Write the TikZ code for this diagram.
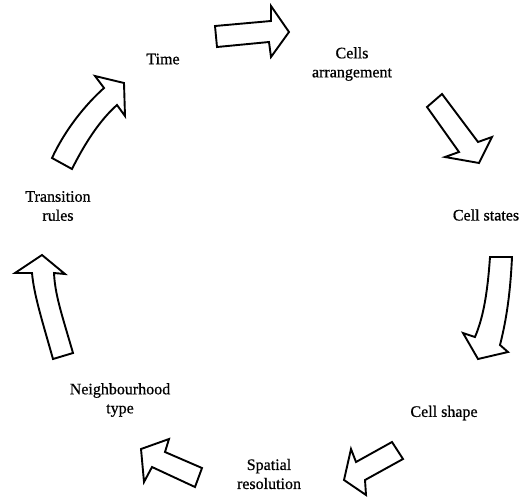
\documentclass[tikz,border=0pt]{standalone}
\usepackage{fontspec}
\setmainfont{Liberation Serif}
\newfontfamily\lblfont{Liberation Serif}[BoldFont={Liberation Serif}, BoldFeatures={FakeBold=0.7}]
\begin{document}
\begin{tikzpicture}[x=1pt,y=-1pt,
  lbl/.style={inner sep=0pt, align=center, font=\lblfont\bfseries\fontsize{16}{19}\selectfont},
  blockarrow/.style={draw=black, fill=white, line width=1.9pt, line join=miter}]
\useasboundingbox (0,0) rectangle (526,498);
% labels
\node[lbl] (time) at (163,59) {Time};
\node[lbl] (cellsarr) at (352,64) {Cells\\arrangement};
\node[lbl] (cellstates) at (486,215) {Cell states};
\node[lbl] (cellshape) at (444,413) {Cell shape};
\node[lbl] (spatial) at (269,474) {Spatial\\resolution};
\node[lbl] (neigh) at (120,400) {Neighbourhood\\type};
\node[lbl] (trans) at (58,206) {Transition\\rules};
% arrows
\draw[blockarrow] (215,26) -- (271,21) -- (271,6) -- (289,32) -- (271,57) -- (269,42) -- (217,47) -- cycle;
\draw[blockarrow] (427,107) -- (442,94) -- (478,142) -- (492,137) -- (479,163) -- (445,157) -- (459,152) -- cycle;
\draw[blockarrow] (490,257) .. controls (487,300) and (482,320) .. (475,337) -- (463,333) -- (478,359) -- (508,352) -- (500,345)
  .. controls (505,325) and (510,300) .. (512,257) -- cycle;
\draw[blockarrow] (392,442) -- (403,459) -- (365,480) -- (366,495) -- (344,480) -- (351,449) -- (356,462) -- cycle;
\draw[blockarrow] (202,468) -- (195,487) -- (152,467) -- (144,482) -- (141,449) -- (169,439) -- (165,452) -- cycle;
\draw[blockarrow] (53,359) .. controls (42,320) and (34,295) .. (32,273) -- (15,273) -- (42,255) -- (65,274) -- (54,273)
  .. controls (55,295) and (62,315) .. (73,353) -- cycle;
\draw[blockarrow] (52,158) .. controls (65,130) and (85,105) .. (104,88) -- (95,76) -- (124,83) -- (125,116) -- (117,105)
  .. controls (100,120) and (85,143) .. (72,169) -- cycle;
\end{tikzpicture}
\end{document}
